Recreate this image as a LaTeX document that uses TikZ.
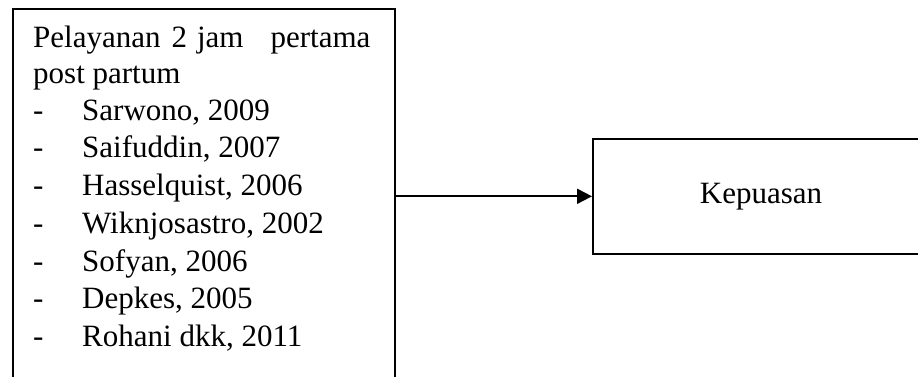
\documentclass[tikz,border=0pt]{standalone}
\usepackage{fontspec}
\setmainfont{Liberation Serif}
\usetikzlibrary{arrows.meta}
\begin{document}
\begin{tikzpicture}[x=1pt,y=-1pt,
  box/.style={draw=black, line width=1.6pt, rectangle, inner sep=0pt},
  txt/.style={anchor=base west, inner sep=0pt, font=\fontsize{31}{37}\selectfont},
  conn/.style={line width=2pt, -{Triangle[length=15pt,width=15pt]}}]
\useasboundingbox (0,0) rectangle (918,376);
\clip (0,0) rectangle (918,376);
\fill[white] (0,0) rectangle (918,376);
\node[box, anchor=north west, minimum width=382pt, minimum height=390pt] (src) at (12,8) {};
\node[box, anchor=north west, minimum width=360pt, minimum height=115pt] (dst) at (592,138) {};
\node[txt] (t1) at (33,47) {Pelayanan\hspace{11pt}2\hspace{10pt}jam\hspace{27pt}pertama};
\node[txt] (t2) at (33,83.5) {post partum};
\foreach \name/\y/\s in {a/120/{Sarwono, 2009}, b/157.5/{Saifuddin, 2007}, c/195/{Hasselquist, 2006}, d/233/{Wiknjosastro, 2002}, e/271/{Sofyan, 2006}, f/308.5/{Depkes, 2005}, g/346/{Rohani dkk, 2011}}{
  \node[txt] (dash\name) at (33,\y) {-};
  \node[txt] (item\name) at (82,\y) {\s};
}
\node[anchor=base, inner sep=0pt, font=\fontsize{31}{37}\selectfont] (lbl) at (761,203) {Kepuasan};
\draw[conn] (src.east |- dst.west) -- (dst.west);
\end{tikzpicture}
\end{document}
